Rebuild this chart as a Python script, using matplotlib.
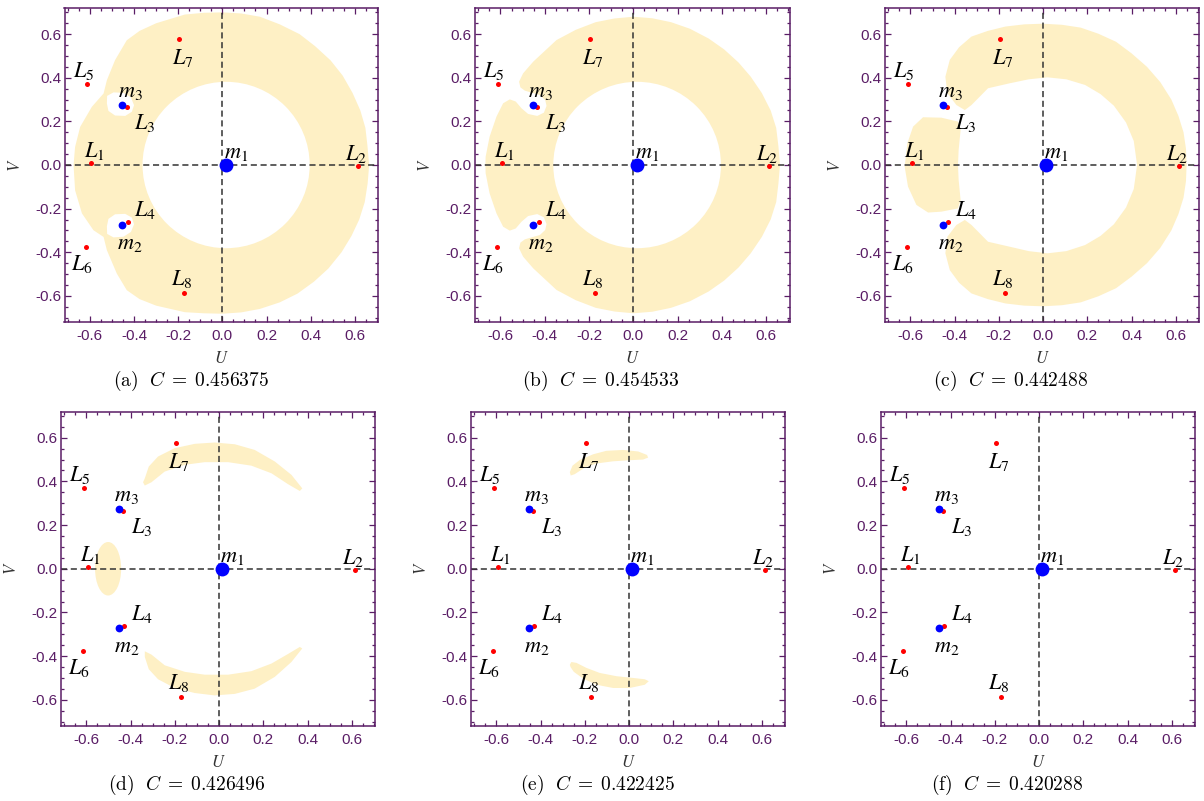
import matplotlib.pyplot as plt
from matplotlib.patches import Ellipse

# ---- data (U, V coordinates) ----
prim_names = ['m_{1}', 'm_{2}', 'm_{3}']
prim_u = [0.015, -0.454, -0.454]
prim_v = [0.0, -0.273, 0.274]

lp_names = ['L_{1}', 'L_{2}', 'L_{3}', 'L_{4}', 'L_{5}', 'L_{6}', 'L_{7}', 'L_{8}']
lp_u = [-0.595, 0.613, -0.433, -0.428, -0.611, -0.617, -0.195, -0.173]
lp_v = [0.010, -0.004, 0.265, -0.261, 0.371, -0.376, 0.577, -0.585]

panel_tags = ['(a)', '(b)', '(c)', '(d)', '(e)', '(f)']
jacobi_c = ['0.456375', '0.454533', '0.442488', '0.426496', '0.422425', '0.420288']

# forbidden regions, outlines
ring_a_outer = [(0.665, 0.0), (0.657, 0.09), (0.648, 0.17), (0.625, 0.25), (0.59, 0.33),
                (0.545, 0.41), (0.49, 0.48), (0.42, 0.545), (0.35, 0.60), (0.26, 0.645),
                (0.17, 0.68), (0.085, 0.695), (0.0, 0.70), (-0.085, 0.698), (-0.17, 0.69),
                (-0.30, 0.65), (-0.375, 0.615), (-0.433, 0.572),
                (-0.486, 0.481), (-0.523, 0.389), (-0.538, 0.328), (-0.591, 0.267),
                (-0.644, 0.175), (-0.667, 0.083), (-0.674, 0.0), (-0.667, -0.116),
                (-0.636, -0.222), (-0.584, -0.299), (-0.538, -0.330), (-0.523, -0.391),
                (-0.478, -0.498), (-0.433, -0.574), (-0.375, -0.615), (-0.30, -0.645),
                (-0.17, -0.675), (-0.085, -0.68), (0.0, -0.682), (0.085, -0.676),
                (0.17, -0.66), (0.26, -0.63), (0.34, -0.59), (0.415, -0.535), (0.48, -0.475),
                (0.54, -0.40), (0.585, -0.325), (0.62, -0.25), (0.645, -0.17), (0.658, -0.085)]
hole_a_m3 = [(-0.522, 0.317), (-0.493, 0.333), (-0.448, 0.331), (-0.414, 0.310), (-0.400, 0.274),
             (-0.410, 0.244), (-0.440, 0.225), (-0.486, 0.227), (-0.516, 0.248), (-0.523, 0.282)]
hole_a_m2 = [(-0.522, -0.316), (-0.493, -0.332), (-0.448, -0.329), (-0.414, -0.307), (-0.400, -0.272),
             (-0.410, -0.241), (-0.440, -0.224), (-0.486, -0.226), (-0.516, -0.247), (-0.523, -0.281)]
inner_ab = (0.017, 0.0, 0.757, 0.763)   # centre u, centre v, width, height

ring_b_outer = [(0.662, 0.0), (0.655, 0.085), (0.645, 0.17), (0.62, 0.25), (0.58, 0.33),
                (0.53, 0.405), (0.475, 0.47), (0.41, 0.53), (0.34, 0.58), (0.255, 0.625),
                (0.17, 0.655), (0.085, 0.673), (0.0, 0.68), (-0.085, 0.672), (-0.17, 0.655),
                (-0.26, 0.62), (-0.347, 0.573), (-0.452, 0.474),
                (-0.498, 0.420), (-0.516, 0.382), (-0.510, 0.356), (-0.490, 0.341),
                (-0.460, 0.332), (-0.422, 0.321), (-0.398, 0.298), (-0.392, 0.271),
                (-0.404, 0.240), (-0.434, 0.225), (-0.475, 0.234), (-0.505, 0.260),
                (-0.531, 0.291), (-0.558, 0.301), (-0.588, 0.283), (-0.618, 0.222),
                (-0.649, 0.130), (-0.667, 0.038), (-0.668, 0.0), (-0.667, -0.038),
                (-0.649, -0.130), (-0.618, -0.222), (-0.588, -0.283), (-0.558, -0.301),
                (-0.531, -0.291), (-0.505, -0.260), (-0.475, -0.234), (-0.434, -0.225),
                (-0.404, -0.240), (-0.392, -0.271), (-0.398, -0.298), (-0.422, -0.321),
                (-0.460, -0.332), (-0.490, -0.341), (-0.510, -0.356), (-0.516, -0.382),
                (-0.498, -0.420), (-0.452, -0.474), (-0.347, -0.573), (-0.26, -0.62),
                (-0.17, -0.655), (-0.085, -0.672), (0.0, -0.68), (0.085, -0.673),
                (0.17, -0.655), (0.255, -0.625), (0.34, -0.58), (0.41, -0.53), (0.475, -0.47),
                (0.53, -0.405), (0.58, -0.33), (0.62, -0.25), (0.645, -0.17), (0.655, -0.085)]

arc_c = [(-0.354, 0.252), (-0.392, 0.275), (-0.433, 0.329), (-0.442, 0.405), (-0.422, 0.482),
         (-0.38, 0.54), (-0.324, 0.589), (-0.25, 0.615), (-0.17, 0.635), (-0.085, 0.645),
         (0.0, 0.648), (0.085, 0.643), (0.17, 0.63), (0.25, 0.602), (0.33, 0.565),
         (0.40, 0.512), (0.47, 0.45), (0.53, 0.38), (0.58, 0.30), (0.612, 0.225),
         (0.635, 0.15), (0.646, 0.075), (0.649, 0.0), (0.646, -0.075), (0.635, -0.15),
         (0.612, -0.225), (0.58, -0.30), (0.53, -0.38), (0.47, -0.45), (0.40, -0.512),
         (0.33, -0.565), (0.25, -0.602), (0.17, -0.63), (0.085, -0.643), (0.0, -0.648),
         (-0.085, -0.645), (-0.17, -0.635), (-0.25, -0.615), (-0.324, -0.589),
         (-0.38, -0.54), (-0.422, -0.482), (-0.442, -0.405),
         (-0.433, -0.329), (-0.392, -0.275), (-0.354, -0.252), (-0.324, -0.275),
         (-0.249, -0.352), (-0.15, -0.375), (-0.065, -0.395), (0.02, -0.405),
         (0.105, -0.395), (0.19, -0.367), (0.26, -0.325), (0.32, -0.272), (0.375, -0.195),
         (0.41, -0.11), (0.425, 0.0), (0.41, 0.11), (0.375, 0.195), (0.32, 0.272),
         (0.26, 0.325), (0.19, 0.367), (0.105, 0.393), (0.02, 0.402), (-0.065, 0.393),
         (-0.15, 0.375), (-0.249, 0.352), (-0.324, 0.275)]
lobe_c = [(-0.543, 0.219), (-0.460, 0.217), (-0.385, 0.199), (-0.373, 0.161), (-0.382, 0.069),
          (-0.385, 0.0), (-0.382, -0.069), (-0.373, -0.161), (-0.385, -0.199), (-0.460, -0.214),
          (-0.520, -0.218), (-0.573, -0.183), (-0.611, -0.099), (-0.626, -0.008),
          (-0.614, 0.099), (-0.588, 0.176)]

crescent_d_up = [(-0.336, 0.414), (-0.318, 0.468), (-0.276, 0.514), (-0.201, 0.552),
                 (-0.110, 0.572), (-0.020, 0.578), (0.071, 0.570), (0.161, 0.544),
                 (0.252, 0.491), (0.327, 0.430), (0.376, 0.368), (0.365, 0.356),
                 (0.312, 0.387), (0.237, 0.437), (0.146, 0.472), (0.041, 0.488),
                 (-0.065, 0.488), (-0.155, 0.476), (-0.246, 0.445), (-0.306, 0.396),
                 (-0.336, 0.381), (-0.344, 0.396)]
crescent_d_low = [(-0.336, -0.404), (-0.318, -0.460), (-0.276, -0.506), (-0.201, -0.546),
                  (-0.110, -0.569), (-0.020, -0.580), (0.071, -0.573), (0.161, -0.549),
                  (0.252, -0.495), (0.327, -0.427), (0.376, -0.365), (0.365, -0.358),
                  (0.312, -0.390), (0.237, -0.434), (0.146, -0.469), (0.041, -0.485),
                  (-0.065, -0.485), (-0.155, -0.472), (-0.246, -0.442), (-0.306, -0.393),
                  (-0.336, -0.378)]
oval_d = (-0.502, 0.0, 0.118, 0.245)

blob_e_up = [(-0.268, 0.442), (-0.256, 0.472), (-0.223, 0.498), (-0.163, 0.524), (-0.103, 0.540),
             (-0.027, 0.544), (0.041, 0.537), (0.081, 0.521), (0.086, 0.509), (0.063, 0.500),
             (0.003, 0.497), (-0.072, 0.492), (-0.148, 0.482), (-0.201, 0.463),
             (-0.246, 0.433), (-0.264, 0.427)]
blob_e_low = [(-0.268, -0.439), (-0.261, -0.427), (-0.238, -0.431), (-0.193, -0.454),
              (-0.133, -0.477), (-0.057, -0.492), (0.018, -0.500), (0.071, -0.506),
              (0.089, -0.515), (0.071, -0.531), (0.003, -0.546), (-0.072, -0.546),
              (-0.148, -0.531), (-0.208, -0.503), (-0.250, -0.472), (-0.265, -0.450)]

# ---- styling ----
YELLOW = '#fef0c5'
FRAME = '#5a1d66'
# label offsets in pixels (dx, dy)
prim_off = [(10, 12), (8, -19), (8, 13)]
lp_off = [(3, 12), (-2, 12), (18, -16), (17, 12), (-4, 13), (-4, -17), (3, -19), (-2, 14)]

# axes frames in pixels: left, top, right, bottom
frames = [(64.5, 8, 378, 322), (475, 8, 789.5, 322), (885, 8, 1199, 322),
          (61, 411.5, 375, 726), (471, 411.5, 785, 726), (881, 411.5, 1195, 726)]
W, H = 1204, 801

fig = plt.figure(figsize=(W / 100, H / 100), dpi=100)


def fill_poly(ax, pts, color):
    u = [p[0] for p in pts]
    v = [p[1] for p in pts]
    ax.fill(u, v, color=color, lw=0, zorder=1)


def oval(ax, spec, color):
    ax.add_patch(Ellipse((spec[0], spec[1]), spec[2], spec[3], color=color, lw=0, zorder=1))


for i, (l, t, r, b) in enumerate(frames):
    ax = fig.add_axes([l / W, (H - b) / H, (r - l) / W, (b - t) / H])
    ax.set_xlim(-0.715, 0.705)
    ax.set_ylim(-0.72, 0.72)

    if i == 0:
        fill_poly(ax, ring_a_outer, YELLOW)
        oval(ax, inner_ab, 'white')
        fill_poly(ax, hole_a_m3, 'white')
        fill_poly(ax, hole_a_m2, 'white')
    elif i == 1:
        fill_poly(ax, ring_b_outer, YELLOW)
        oval(ax, inner_ab, 'white')
    elif i == 2:
        fill_poly(ax, arc_c, YELLOW)
        fill_poly(ax, lobe_c, YELLOW)
    elif i == 3:
        fill_poly(ax, crescent_d_up, YELLOW)
        fill_poly(ax, crescent_d_low, YELLOW)
        oval(ax, oval_d, YELLOW)
    elif i == 4:
        fill_poly(ax, blob_e_up, YELLOW)
        fill_poly(ax, blob_e_low, YELLOW)

    ax.axhline(0, color='#333333', lw=1.1, dashes=(4, 2.4), zorder=2)
    ax.axvline(0, color='#333333', lw=1.1, dashes=(4, 2.4), zorder=2)

    ax.plot(lp_u, lp_v, 'o', color='#ff0000', ms=3.6, mew=0, zorder=3)
    ax.plot(prim_u[1:], prim_v[1:], 'o', color='#0000ff', ms=5.6, mew=0, zorder=3)
    ax.plot(prim_u[:1], prim_v[:1], 'o', color='#0000ff', ms=10.0, mew=0, zorder=3)

    for name, u, v, off in zip(lp_names + prim_names, lp_u + prim_u, lp_v + prim_v,
                               lp_off + prim_off):
        ax.annotate('$' + name.replace('{', r'{\mathit{').replace('}', '}}') + '$',
                    (u, v), xytext=off, textcoords='offset pixels',
                    ha='center', va='center', fontsize=16, math_fontfamily='stix',
                    zorder=4)

    # frame and ticks
    for sp in ax.spines.values():
        sp.set_color(FRAME)
        sp.set_linewidth(1.1)
    ticks = [-0.6, -0.4, -0.2, 0.0, 0.2, 0.4, 0.6]
    minor = [k * 0.05 for k in range(-14, 15)]
    ax.set_xticks(ticks)
    ax.set_yticks(ticks)
    ax.set_xticks(minor, minor=True)
    ax.set_yticks(minor, minor=True)
    ax.set_xticklabels(['%.1f' % t if t != 0 else '0.0' for t in ticks])
    ax.set_yticklabels(['%.1f' % t if t != 0 else '0.0' for t in ticks])
    ax.tick_params(which='both', direction='in', top=True, right=True, color=FRAME,
                   width=0.9, labelcolor=FRAME, labelsize=11)
    ax.tick_params(which='major', length=4)
    ax.tick_params(which='minor', length=2.3)
    ax.tick_params(axis='x', pad=5)
    ax.tick_params(axis='y', pad=2.5)
    for lab in ax.get_xticklabels() + ax.get_yticklabels():
        lab.set_family('Liberation Sans')

    ax.text(0.5, -36 / (b - t), '$U$', transform=ax.transAxes, ha='center', va='center',
            fontsize=12, math_fontfamily='stix', color='#333333')
    ax.text(-50 / (r - l), 0.5, '$V$', transform=ax.transAxes, ha='center', va='center',
            fontsize=12, math_fontfamily='stix', rotation=90, color='#333333')
    # caption is centred under the whole sub-image (tick labels included)
    ax.text(126 / (r - l), -59 / (b - t),
            r'$\mathrm{' + panel_tags[i] + r'}\ \ C\;=\;' + jacobi_c[i] + '$',
            transform=ax.transAxes, ha='center', va='center', fontsize=14,
            math_fontfamily='cm')

fig.savefig('out.png', dpi=100)
